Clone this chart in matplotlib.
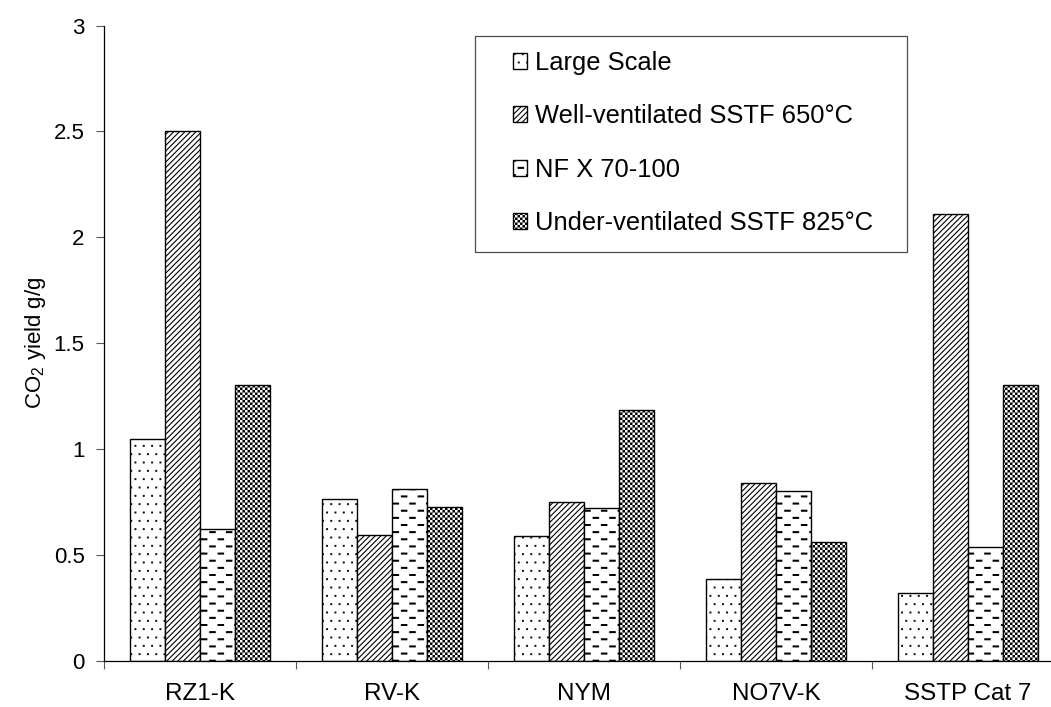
import warnings
import numpy as np
import matplotlib
matplotlib.use("Agg")
import matplotlib.pyplot as plt
import matplotlib.hatch as mhatch
from matplotlib.path import Path
from matplotlib.patches import Rectangle

warnings.filterwarnings("ignore")

# data
categories = ["RZ1-K", "RV-K", "NYM", "NO7V-K", "SSTP Cat 7"]
series_names = ["Large Scale", "Well-ventilated SSTF 650°C",
                "NF X 70-100", "Under-ventilated SSTF 825°C"]
large_scale = [1.045, 0.765, 0.588, 0.385, 0.32]
well_vent = [2.50, 0.592, 0.75, 0.84, 2.11]
nfx = [0.624, 0.81, 0.72, 0.80, 0.535]
under_vent = [1.30, 0.725, 1.184, 0.56, 1.30]
ytick_vals = [0, 0.5, 1, 1.5, 2, 2.5, 3]
ytick_labels = ["0", "0.5", "1", "1.5", "2", "2.5", "3"]


# extra hatch patterns (dots, dashes, checkerboard) built from small filled rects
def add_rect_hatch(char, rects):
    class RectHatch(mhatch.HatchPatternBase):
        def __init__(self, hatch, density):
            self.num_vertices = 5 * len(rects) if char in hatch else 0

        def set_vertices_and_codes(self, vertices, codes):
            for i, (x, y, w, h) in enumerate(rects):
                vertices[5 * i:5 * i + 5] = [(x, y), (x + w, y), (x + w, y + h),
                                             (x, y + h), (x, y)]
                codes[5 * i:5 * i + 5] = [Path.MOVETO, Path.LINETO, Path.LINETO,
                                          Path.LINETO, Path.CLOSEPOLY]
    mhatch._hatch_types.append(RectHatch)


def stagger_rects(nrows, ncols, w, h):
    out = []
    for r in range(nrows):
        shift = 0.25 if r % 2 == 0 else 0.75
        for c in range(ncols):
            cx = (c + shift) / ncols
            cy = (r + 0.5) / nrows
            out.append((cx - w / 2, cy - h / 2, w, h))
    return out


def checker_rects(n, s):
    out = []
    for r in range(n):
        for c in range(n):
            if (r + c) % 2 == 0:
                cx = (c + 0.5) / n
                cy = (r + 0.5) / n
                out.append((cx - s / 2, cy - s / 2, s, s))
    return out


add_rect_hatch("p", stagger_rects(12, 12, 0.008, 0.008))
add_rect_hatch("d", stagger_rects(14, 6, 0.054, 0.009))
add_rect_hatch("c", checker_rects(40, 0.014))

plt.rcParams["font.family"] = ["Liberation Sans", "DejaVu Sans"]
plt.rcParams["mathtext.default"] = "regular"
plt.rcParams["hatch.linewidth"] = 0.8

fig = plt.figure(figsize=(10.51, 7.07), dpi=100)
ax = fig.add_axes([104 / 1051, (707 - 660.7) / 707, 960 / 1051, 635.1 / 707])

x = np.arange(len(categories))
w = 0.182
series = [large_scale, well_vent, nfx, under_vent]
hatches = ["p", "//////", "d", "c"]
for i, (vals, name, h) in enumerate(zip(series, series_names, hatches)):
    ax.bar(x + (i - 1.5) * w, vals, w, color="white", edgecolor="black",
           linewidth=1.0, hatch=h, label=name, zorder=2)

ax.set_xlim(-0.5, len(categories) - 0.5)
ax.set_ylim(0, 3)
ax.set_yticks(ytick_vals)
ax.set_yticklabels(ytick_labels, fontsize=16)
ax.set_xticks(x)
ax.set_xticklabels(categories, fontsize=17.5)
ax.set_xticks(np.arange(len(categories) + 1) - 0.5, minor=True)
ax.tick_params(axis="x", which="major", length=0, pad=16)
ax.tick_params(axis="x", which="minor", length=6, width=0.8, color="0.35")
ax.tick_params(axis="y", length=6, width=0.8, color="0.35", pad=8)

for s in ["top", "right"]:
    ax.spines[s].set_visible(False)
for s in ["left", "bottom"]:
    ax.spines[s].set_linewidth(0.9)

ax.set_ylabel("CO$_2$ yield g/g", fontsize=16)
ax.yaxis.set_label_coords(-0.058, 0.5)

leg = ax.legend(loc="upper left", bbox_to_anchor=(512.7 / 1051, 1 - 50.8 / 707),
                bbox_transform=fig.transFigure, frameon=False, borderpad=0,
                borderaxespad=0, fontsize=18.4, handlelength=0.57,
                handleheight=0.59, handletextpad=0.3, labelspacing=1.15)
fig.patches.append(Rectangle((475 / 1051, 1 - 252 / 707), 432 / 1051, 216.3 / 707,
                             transform=fig.transFigure, fill=False,
                             edgecolor="0.3", linewidth=0.9))

fig.savefig("out.png", dpi=100)
